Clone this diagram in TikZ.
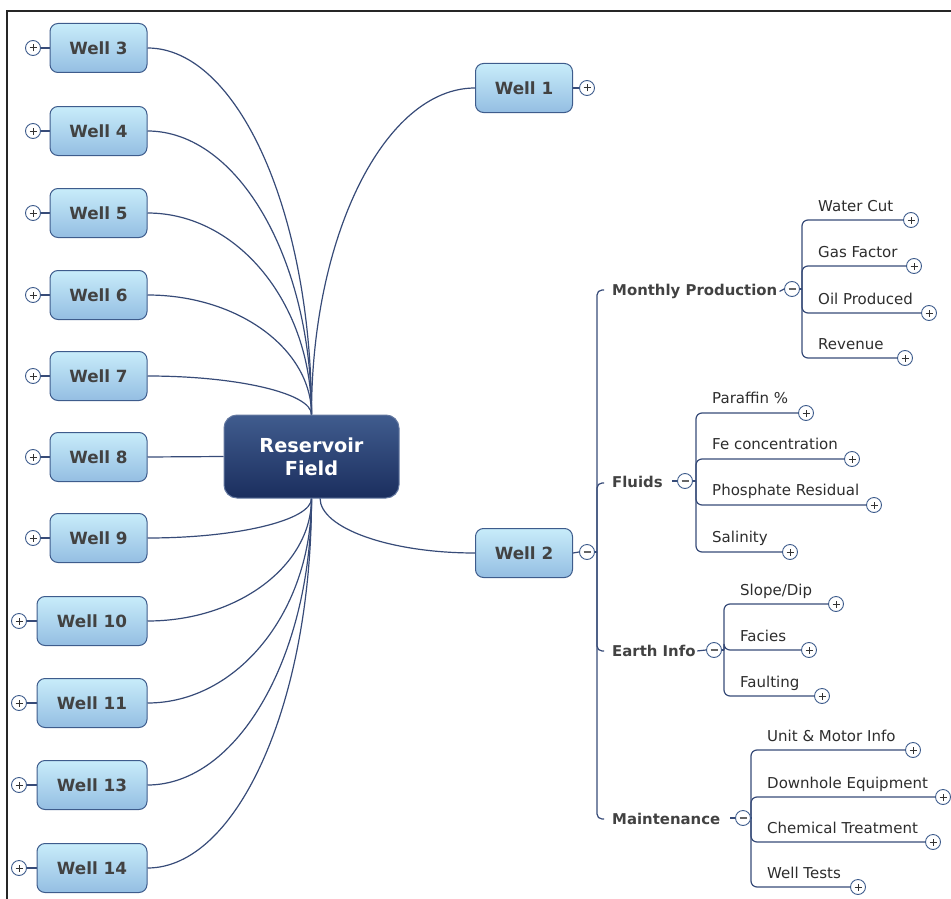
\documentclass[tikz,border=0pt]{standalone}
\usepackage{fontspec}
\setmainfont{DejaVu Sans}
\usetikzlibrary{calc,backgrounds}
\definecolor{lnc}{RGB}{55,75,120}
\definecolor{wellbd}{RGB}{62,92,140}
\definecolor{welltop}{RGB}{200,236,250}
\definecolor{wellbot}{RGB}{148,190,226}
\definecolor{cntop}{RGB}{64,92,142}
\definecolor{cnbot}{RGB}{27,46,94}
\definecolor{cnbd}{RGB}{100,120,160}
\definecolor{txg}{RGB}{66,66,66}
\definecolor{lftx}{RGB}{45,45,45}
\tikzset{
 ln/.style={draw=lnc, line width=1.2pt},
 wellbox/.style={draw=wellbd, line width=1pt, rounded corners=8pt, top color=welltop, bottom color=wellbot, minimum width=97pt, minimum height=49pt, inner sep=0pt, text=txg, font=\fontsize{16.8}{19}\selectfont\bfseries},
 widewell/.style={wellbox, minimum width=110pt},
 hub/.style={draw=cnbd, line width=1pt, rounded corners=13pt, top color=cntop, bottom color=cnbot, minimum width=175pt, minimum height=83pt, text=white, align=center, font=\fontsize{19.3}{23}\selectfont\bfseries},
 togglebase/.style={circle, draw=wellbd, fill=white, line width=0.9pt, minimum size=15pt, inner sep=0pt},
 plusbtn/.style={togglebase, path picture={\draw[black!80, line width=1pt] ([xshift=-3.5pt]path picture bounding box.center) -- ([xshift=3.5pt]path picture bounding box.center) ([yshift=-3.5pt]path picture bounding box.center) -- ([yshift=3.5pt]path picture bounding box.center);}},
 minusbtn/.style={togglebase, path picture={\draw[black!60, line width=2pt] ([xshift=-3.5pt]path picture bounding box.center) -- ([xshift=3.5pt]path picture bounding box.center);}},
 subtopic/.style={anchor=base west, inner sep=0pt, text=txg, font=\fontsize{14.9}{17}\selectfont\bfseries},
 leaf/.style={anchor=base west, inner sep=0pt, text=lftx, font=\fontsize{15}{17}\selectfont},
}
\begin{document}
\begin{tikzpicture}[x=1pt,y=-1pt]
\useasboundingbox (0,0) rectangle (951,899);
\draw[line width=2pt, black!85] (951,11) -- (7,11) -- (7,899);

% central topic
\node[hub] (cn) at (311.5,456.5) {Reservoir\\Field};

% left wells
\foreach \n/\y in {3/48,4/131,5/213,6/295,7/376,8/457,9/538}{
  \node[wellbox] (w\n) at (98.5,\y) {Well \n};
  \node[plusbtn] (p\n) at (33,\y) {};
}
\foreach \n/\y in {10/621,11/703,13/785,14/868}{
  \node[widewell] (w\n) at (92,\y) {Well \n};
  \node[plusbtn] (p\n) at (19,\y) {};
}

% right wells
\node[wellbox] (w1) at (524,88) {Well 1};
\node[plusbtn] (p1) at (587,88) {};
\node[wellbox] (w2) at (524,553) {Well 2};
\node[minusbtn] (p2) at (587,552) {};
\coordinate (w2j) at (597,552);
\coordinate (cnb) at (320,498);

% subtopics
\node[subtopic] (mp) at (612,295.5) {Monthly Production};
\node[minusbtn] (mpb) at (792,289) {};
\coordinate (mpj) at (802,289);
\coordinate (mps) at (604,290);
\node[subtopic] (fl) at (612,487.5) {Fluids};
\node[minusbtn] (flb) at (685,481) {};
\coordinate (flj) at (696,481);
\coordinate (fls) at (604,483);
\node[subtopic] (ei) at (612,656.5) {Earth Info};
\node[minusbtn] (eib) at (714,650) {};
\coordinate (eij) at (724,650);
\coordinate (eis) at (604,651);
\node[subtopic] (mt) at (612,824.5) {Maintenance};
\node[minusbtn] (mtb) at (743,818) {};
\coordinate (mtj) at (751,818);
\coordinate (mts) at (604,819);

% leaves: Monthly Production
\node[leaf] (wc) at (818,211) {Water Cut};      \node[plusbtn] (wcb) at (911,220) {};
\node[leaf] (gf) at (818,257) {Gas Factor};     \node[plusbtn] (gfb) at (914,266) {};
\node[leaf] (op) at (818,304) {Oil Produced};   \node[plusbtn] (opb) at (929,313) {};
\node[leaf] (rv) at (818,349) {Revenue};        \node[plusbtn] (rvb) at (905,358) {};
% leaves: Fluids
\node[leaf] (pa) at (712,403) {Paraffin \%};          \node[plusbtn] (pab) at (806,413) {};
\node[leaf] (fe) at (712,449) {Fe concentration};     \node[plusbtn] (feb) at (852,459) {};
\node[leaf] (ph) at (712,495) {Phosphate Residual};   \node[plusbtn] (phb) at (874,505) {};
\node[leaf] (sa) at (712,542) {Salinity};             \node[plusbtn] (sab) at (790,552) {};
% leaves: Earth Info
\node[leaf] (sd) at (740,595) {Slope/Dip};  \node[plusbtn] (sdb) at (836,604) {};
\node[leaf] (fa) at (740,641) {Facies};     \node[plusbtn] (fab) at (809,650) {};
\node[leaf] (fu) at (740,687) {Faulting};   \node[plusbtn] (fub) at (822,696) {};
% leaves: Maintenance
\node[leaf] (um) at (767,741) {Unit \& Motor Info};   \node[plusbtn] (umb) at (913,750) {};
\node[leaf] (dh) at (767,788) {Downhole Equipment};   \node[plusbtn] (dhb) at (943,797) {};
\node[leaf] (ct) at (767,833) {Chemical Treatment};   \node[plusbtn] (ctb) at (933,842) {};
\node[leaf] (wt) at (767,878) {Well Tests};           \node[plusbtn] (wtb) at (858,887) {};

\begin{pgfonlayer}{background}
  % left toggles to wells
  \foreach \n in {3,4,5,6,7,8,9,10,11,13,14} \draw[ln] (p\n.east) -- (w\n.west);
  % upper left curves
  \foreach \n in {3,4,5,6,7}
    \draw[ln] (w\n.east) .. controls ($(w\n.east)!0.55!(w\n.east -| cn.north)$) and ($(cn.north)!0.55!(w\n.east -| cn.north)$) .. (cn.north);
  \draw[ln] (w8.east) -- (cn.west);
  \foreach \n in {9,10,11,13,14}
    \draw[ln] (w\n.east) .. controls ($(w\n.east)!0.55!(w\n.east -| cn.south)$) and ($(cn.south)!0.55!(w\n.east -| cn.south)$) .. (cn.south);
  % Well 1 and Well 2
  \draw[ln] (cn.north) .. controls ($(cn.north)!0.55!(w1.west -| cn.north)$) and ($(w1.west)!0.55!(w1.west -| cn.north)$) .. (w1.west);
  \draw[ln] (cnb) .. controls ($(cnb)!0.55!(w2.west -| cnb)$) and ($(w2.west)!0.55!(w2.west -| cnb)$) .. (w2.west);
  \draw[ln] (w1.east) -- (p1.west);
  \draw[ln] (w2.east) -- (p2.west);
  \draw[ln] (p2.east) -- (w2j);
  \foreach \s in {mps,fls,eis,mts} \draw[ln, rounded corners=5pt] (w2j) |- (\s);
  % subtopic dashes
  \draw[ln] ([xshift=2pt]mp.east) -- (mpb.west);
  \draw[ln] (flb.west) -- ++(-5,0);
  \draw[ln] ([xshift=1.5pt]ei.east) -- (eib.west);
  \draw[ln] (mtb.west) -- ++(-5,0);
  % subtopic trunks
  \draw[ln] (mpb.east) -- (mpj);
  \draw[ln] (flb.east) -- (flj);
  \draw[ln] (eib.east) -- (eij);
  \draw[ln] (mtb.east) -- (mtj);
  \foreach \b in {wcb,gfb,opb,rvb} \draw[ln, rounded corners=6pt] (mpj) |- (\b.west);
  \foreach \b in {pab,feb,phb,sab} \draw[ln, rounded corners=6pt] (flj) |- (\b.west);
  \foreach \b in {sdb,fab,fub} \draw[ln, rounded corners=6pt] (eij) |- (\b.west);
  \foreach \b in {umb,dhb,ctb,wtb} \draw[ln, rounded corners=6pt] (mtj) |- (\b.west);
\end{pgfonlayer}
\end{tikzpicture}
\end{document}
